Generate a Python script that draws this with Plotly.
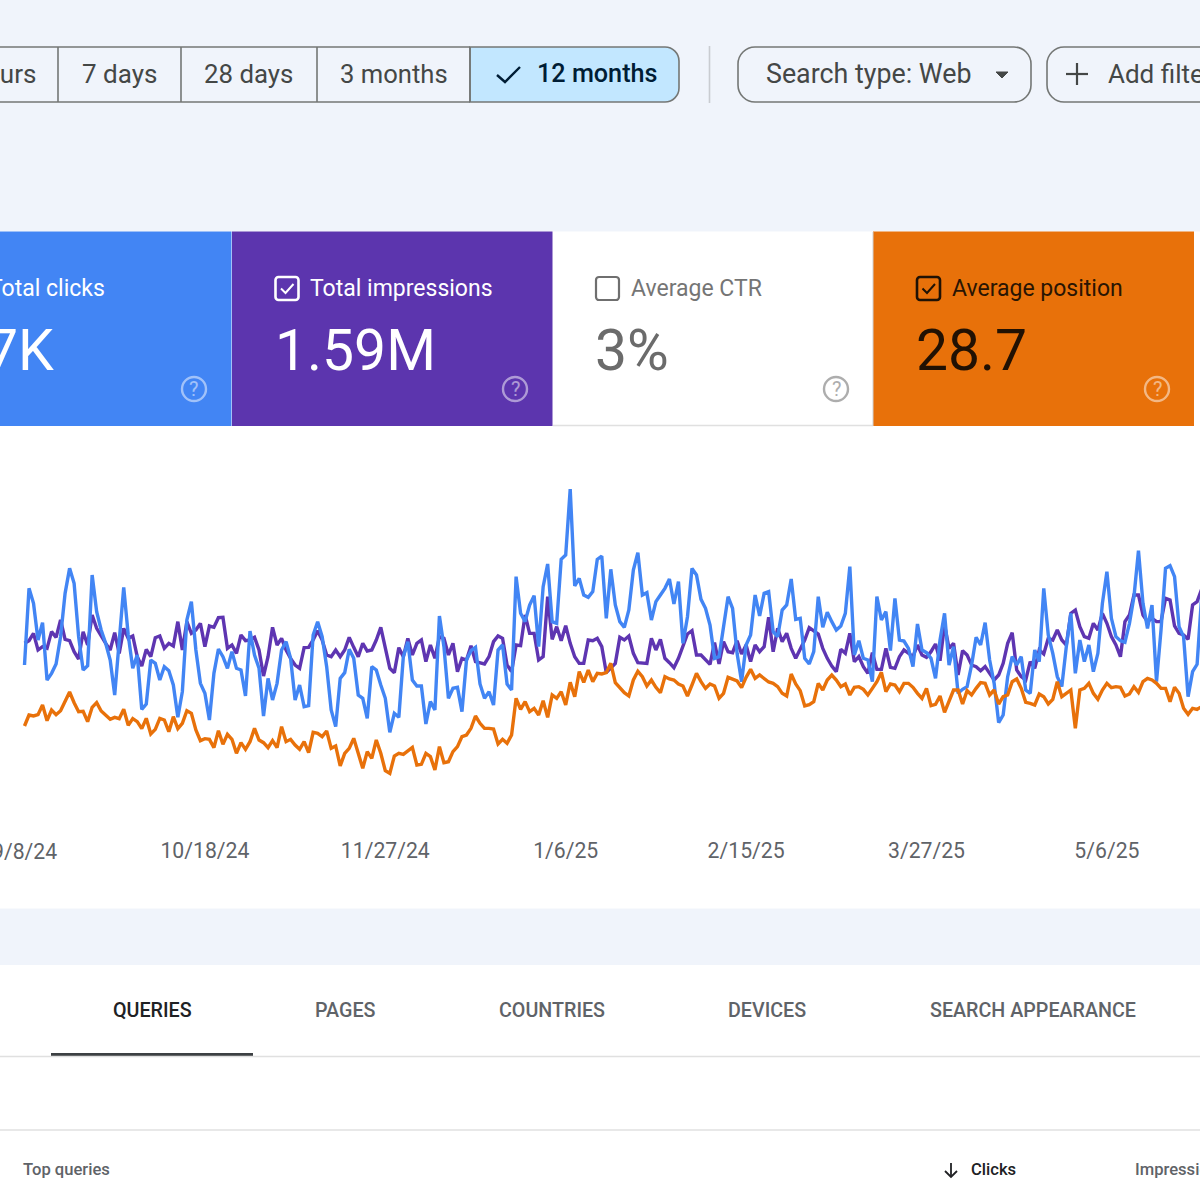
import pandas as pd
import plotly.graph_objects as go

# Daily series (arbitrary display units).
clicks_a = [345,575,530,420,472,300,320,348,430,560,635,590,430,330,343,615,505,450,410,360,255,420,578,435,335,375,212,228,360,350,300,340,328,285,188,265,480,535,390,290,260,180,320,393,370,335,385,335,330,252,447,375,335,192,305,240,290,390,415,365,240,285]
clicks_b = [220,223,435,475,430,340,210,160,305,322,392,365,255,245,185,340,330,285,245,143,200,188,370,415,300,282,282,168,235,210,492,400,245,275,278,205,360,388,398,288,245,265,225,390,405,288,270,610,500,475,525,553,400,580,648,475,470,662,675,873,582,605,555,548,565,662]
clicks_c = [672,485,632,525,475,458,510,630,682,555,562,480,535,555,575,603,528,595,410,490,635,615,542,515,465,365,370,460,550,515,380,295,405,435,555,492,560,565,445,430,510,525,603,482,485,365,348,385,550,458,503,475,450,462,500,640,375,418,365,360,295,550,480,505,388,545,420]
clicks_d = [417,395,340,468,390,382,365,305,420,500,345,400,260,272,280,345,428,405,472,360,290,172,195,310,370,345,370,270,260,390,355,575,435,380,310,280,400,500,320,420,355,405,325,380,530,625,485,430,418,413,470,550,688,530,455,525,295,450,635,643,610,460,430,250,325,347,550]
impressions_a = [410,418,440,390,400,395,445,428,480,422,418,385,363,445,405,495,455,430,410,390,442,380,455,425,432,370,342,392,370,427,432,395,410,402,475,390,475,440,450,470,400,462,458,487,488,395,405,380,435,418,420,428,390,312,370,458,405,425,390,365,345,335]
impressions_b = [397,398,420,448,420,375,370,390,370,390,428,398,370,410,387,390,420,458,400,335,322,397,370,425,375,410,420,355,405,365,430,425,375,410,325,365,360,403,355,352,348,370,415,432,425,345,325,405,403,495,440,440,360,370,550,422,460,418,463,410,370,350,350,420,418,425]
impressions_c = [400,322,335,350,428,420,432,380,352,352,350,425,390,422,365,352,337,365,405,438,448,375,375,360,347,412,348,415,385,382,418,378,405,355,405,385,400,488,385,455,415,440,395,365,390,420,457,448,438,395,365,342,325,392,380,440,355,370,340,320,382,332,332,395,338,335,370]
impressions_d = [390,380,370,405,375,368,385,408,358,465,395,410,315,388,375,345,340,328,340,320,300,315,350,410,442,330,310,300,355,335,390,378,425,420,450,420,405,500,510,460,430,425,470,450,500,470,430,405,370,475,495,555,555,495,475,485,475,475,545,540,462,440,435,422,525,535,572]
position_a = [738,705,708,704,675,722,690,704,692,665,636,668,695,694,725,682,668,693,705,718,712,716,688,736,716,725,746,715,762,748,715,720,755,710,746,730,692,700,750,782,776,778,803,752,793,763,778,820,788,808,785,745,780,788,803,782,803,740,785,778,795,808]
position_b = [785,818,757,760,770,753,805,798,858,820,805,775,820,865,815,835,780,820,872,880,828,820,823,812,802,855,853,820,830,870,800,848,845,815,800,770,765,745,708,730,745,745,747,792,778,790,765,655,688,665,695,685,705,662,712,645,655,635,675,607,650,575,607,570,605,580]
position_c = [582,578,550,608,625,638,648,600,574,590,618,600,622,638,590,597,600,612,618,648,615,580,605,625,612,618,655,640,592,597,603,623,592,568,595,585,595,606,610,620,640,648,582,612,632,678,674,665,610,630,600,585,600,620,612,645,622,620,628,645,625,605,577,635,612,615,635]
position_d = [610,610,622,640,655,625,677,673,648,697,665,630,630,672,632,645,625,608,610,645,630,672,650,645,605,597,625,667,670,675,642,650,672,658,605,650,640,630,745,630,625,610,640,658,630,610,623,620,622,648,642,620,637,605,595,600,610,625,625,665,622,640,685,703,685,688,680]
tick_dates = ["2024-09-08","2024-10-18","2024-11-27","2025-01-06","2025-02-15","2025-03-27","2025-05-06"]
tick_labels = ["9/8/24","10/18/24","11/27/24","1/6/25","2/15/25","3/27/25","5/6/25"]

clicks = clicks_a + clicks_b + clicks_c + clicks_d
impressions = impressions_a + impressions_b + impressions_c + impressions_d
position = position_a + position_b + position_c + position_d
dates = pd.date_range("2024-09-08", periods=len(clicks))

BG = "#f0f4fb"; BLUE = "#4285f4"; PURPLE = "#5e35b1"; ORANGE = "#e8710a"
UI = "Roboto"
W = 1200.0
PX_PER_DAY = 4.51
X0 = 24.5
x_start = pd.Timestamp("2024-09-08") - pd.Timedelta(days=X0 / PX_PER_DAY)
x_end = x_start + pd.Timedelta(days=W / PX_PER_DAY)

def X(x): return x / W
def Y(y): return 1 - y / W

shapes = []
def rect(x0, y0, x1, y1, fill, line=None, lw=0):
    shapes.append(dict(type="rect", xref="paper", yref="paper", x0=X(x0), x1=X(x1), y0=Y(y0), y1=Y(y1),
                       fillcolor=fill, line=dict(color=line or fill, width=lw), layer="below"))
def path(pts, color, lw=2.0, close=False, fill=None):
    d = "M " + " L ".join(f"{X(a):.5f},{Y(b):.5f}" for a, b in pts) + (" Z" if close else "")
    shapes.append(dict(type="path", xref="paper", yref="paper", path=d, line=dict(color=color, width=lw),
                       fillcolor=fill or "rgba(0,0,0,0)", layer="below"))
def rrect(x0, y0, x1, y1, r, line, lw=1.5, fill=None, left=True, right=True):
    k = 0.45 * r
    c = lambda a, b: f"{X(a):.5f},{Y(b):.5f}"
    d = "M " + c(x0 + (r if left else 0), y0) + " L " + c(x1 - (r if right else 0), y0)
    if right:
        d += " C " + c(x1 - k, y0) + " " + c(x1, y0 + k) + " " + c(x1, y0 + r) + " L " + c(x1, y1 - r)
        d += " C " + c(x1, y1 - k) + " " + c(x1 - k, y1) + " " + c(x1 - r, y1)
    else:
        d += " L " + c(x1, y1)
    d += " L " + c(x0 + (r if left else 0), y1)
    if left:
        d += " C " + c(x0 + k, y1) + " " + c(x0, y1 - k) + " " + c(x0, y1 - r) + " L " + c(x0, y0 + r)
        d += " C " + c(x0, y0 + k) + " " + c(x0 + k, y0) + " " + c(x0 + r, y0)
    else:
        d += " L " + c(x0, y0)
    d += " Z"
    shapes.append(dict(type="path", xref="paper", yref="paper", path=d, line=dict(color=line, width=lw),
                       fillcolor=fill or "rgba(0,0,0,0)", layer="below"))

anns = []
def text(s, x, y, size, color, anchor="left", family=UI, weight=400):
    anns.append(dict(text=s, xref="paper", yref="paper", x=X(x), y=Y(y), xanchor=anchor, yanchor="middle",
                     showarrow=False, align=anchor, borderpad=0,
                     font=dict(family=family, size=size, color=color, weight=weight)))

# white panels
rect(0, 231.5, 1200, 908.5, "#ffffff")
rrect(-20, 965, 1220, 1210, 14, "#ffffff", 0, "#ffffff")

# top controls
BORDER = "#747775"; BTN = "#444746"
rrect(470, 47, 679, 102, 14, BORDER, 1.6, "#c2e7ff", left=False)
path([(-20, 47), (470, 47)], BORDER, 1.6)
path([(-20, 102), (470, 102)], BORDER, 1.6)
for dx in [58, 181, 317, 470]:
    path([(dx, 47), (dx, 102)], BORDER, 1.6)
text("24 hours", 36.5, 74, 26, BTN, "right")
text("7 days", 119.5, 74, 26, BTN, "center")
text("28 days", 248.5, 74, 25.8, BTN, "center")
text("3 months", 393.5, 74, 25.6, BTN, "center")
text("12 months", 597.5, 74, 25.2, "#001d35", "center", weight=500)
path([(497, 75), (505, 82), (520, 67)], "#001d35", 2.4)
path([(709.5, 46), (709.5, 103)], "#c9ccd1", 1.6)
rrect(738, 47, 1031, 102, 17, BORDER, 1.6)
text("Search type: Web", 868.5, 74, 26.8, BTN, "center")
path([(996, 72), (1008, 72), (1002, 78)], BTN, 1, close=True, fill=BTN)
rrect(1047, 47, 1260, 102, 17, BORDER, 1.6)
path([(1077, 63), (1077, 85)], BTN, 2.2)
path([(1066, 74), (1088, 74)], BTN, 2.2)
text("Add filter", 1107, 74, 26, BTN, "left")

# metric cards
rect(0, 231.5, 231.5, 426, BLUE)
rect(232, 231.5, 552.5, 426, "#5c35ae")
rect(873, 231.5, 1194, 426, ORANGE)
path([(553, 425.5), (873, 425.5)], "#e0e0e0", 1.5)
path([(873, 232), (873, 426)], "#d0d0d0", 1)

def check(x, y, color):
    rrect(x, y, x + 23, y + 23, 3, color, 2.6)
    path([(x + 5.5, y + 11.5), (x + 10, y + 16), (x + 18, y + 7)], color, 2)
def help_icon(cx, cy, color, opacity):
    shapes.append(dict(type="circle", xref="paper", yref="paper", x0=X(cx - 12), x1=X(cx + 12),
                       y0=Y(cy + 12), y1=Y(cy - 12), line=dict(color=color, width=2.4), opacity=opacity, layer="below"))
    anns.append(dict(text="?", xref="paper", yref="paper", x=X(cx), y=Y(cy), xanchor="center", yanchor="middle",
                     showarrow=False, opacity=opacity, font=dict(family=UI, size=20, color=color)))

text("Total clicks", 106, 288, 23, "#ffffff", "right")
text("7K", 55, 350, 57, "#ffffff", "right", weight=400)
help_icon(194, 389, "#ffffff", 0.5)

check(275.5, 277, "#ffffff")
text("Total impressions", 308.5, 288, 23, "#ffffff")
text("1.59M", 274, 350, 57, "#ffffff", weight=400)
help_icon(515, 389, "#ffffff", 0.5)

rrect(596, 277, 619, 300, 3, "#6f6f6f", 2.2)
text("Average CTR", 629.5, 288, 23, "#757575")
text("3%", 594, 350, 57, "#6b6b6b", weight=400)
help_icon(836, 389, "#6b6b6b", 0.55)

check(917, 277, "#1f1205")
text("Average position", 950.5, 288, 23, "#2a1503")
text("28.7", 915, 350, 57, "#211103", weight=400)
help_icon(1157, 389, "#ffffff", 0.5)

# tabs and table header
path([(51, 1054.5), (253, 1054.5)], "#3c4043", 3)
path([(0, 1056.5), (1200, 1056.5)], "#e0e0e0", 1.4)
path([(0, 1130), (1200, 1130)], "#e0e0e0", 1.4)
text("QUERIES", 152, 1010, 19.7, "#202124", "center", weight=500)
text("PAGES", 345, 1010, 19.7, "#5f6368", "center", weight=500)
text("COUNTRIES", 552, 1010, 19.7, "#5f6368", "center", weight=500)
text("DEVICES", 767, 1010, 19.7, "#5f6368", "center", weight=500)
text("SEARCH APPEARANCE", 1033, 1010, 19.7, "#5f6368", "center", weight=500)
text("Top queries", 22, 1169.5, 16.6, "#5f6368", weight=500)
text("Clicks", 970, 1169.5, 16.6, "#202124", weight=500)
text("Impressions", 1134, 1169.5, 16.6, "#5f6368", weight=500)
path([(951, 1163), (951, 1177)], "#202124", 1.8)
path([(945, 1171), (951, 1177), (957, 1171)], "#202124", 1.8)

# the first date label sits at the edge, where the axis would drop it
TICK_FONT = dict(family=UI, size=21.2, color="#5f6368")
anns.append(dict(text=tick_labels[0], xref="x", yref="paper", x=tick_dates[0], y=Y(851.5), xanchor="center",
                 yanchor="middle", showarrow=False, font=TICK_FONT))

fig = go.Figure()
fig.add_trace(go.Scatter(x=dates, y=position, name="Average position", mode="lines", yaxis="y2",
                         line=dict(color=ORANGE, width=3.4)))
fig.add_trace(go.Scatter(x=dates, y=impressions, name="Total impressions", mode="lines",
                         line=dict(color=PURPLE, width=3.4)))
fig.add_trace(go.Scatter(x=dates, y=clicks, name="Total clicks", mode="lines",
                         line=dict(color=BLUE, width=3.4)))

fig.update_layout(
    width=1200, height=1200, margin=dict(l=0, r=0, t=0, b=0), autosize=False,
    paper_bgcolor=BG, plot_bgcolor="rgba(0,0,0,0)", showlegend=False,
    shapes=shapes, annotations=anns,
    xaxis=dict(type="date", range=[x_start, x_end], tickvals=tick_dates[1:], ticktext=tick_labels[1:],
               tickfont=TICK_FONT, showgrid=False, zeroline=False,
               showline=False, ticks="", automargin=False, tickangle=0),
    yaxis=dict(domain=[Y(836), Y(470)], range=[-168, 930], visible=False, fixedrange=True),
    yaxis2=dict(domain=[Y(836), Y(470)], range=[1068, -30], visible=False, overlaying="y", fixedrange=True),
)
fig.write_html("out.html", config=dict(displayModeBar=False),
               post_script="document.body.style.margin='0';document.body.style.overflow='hidden';")
